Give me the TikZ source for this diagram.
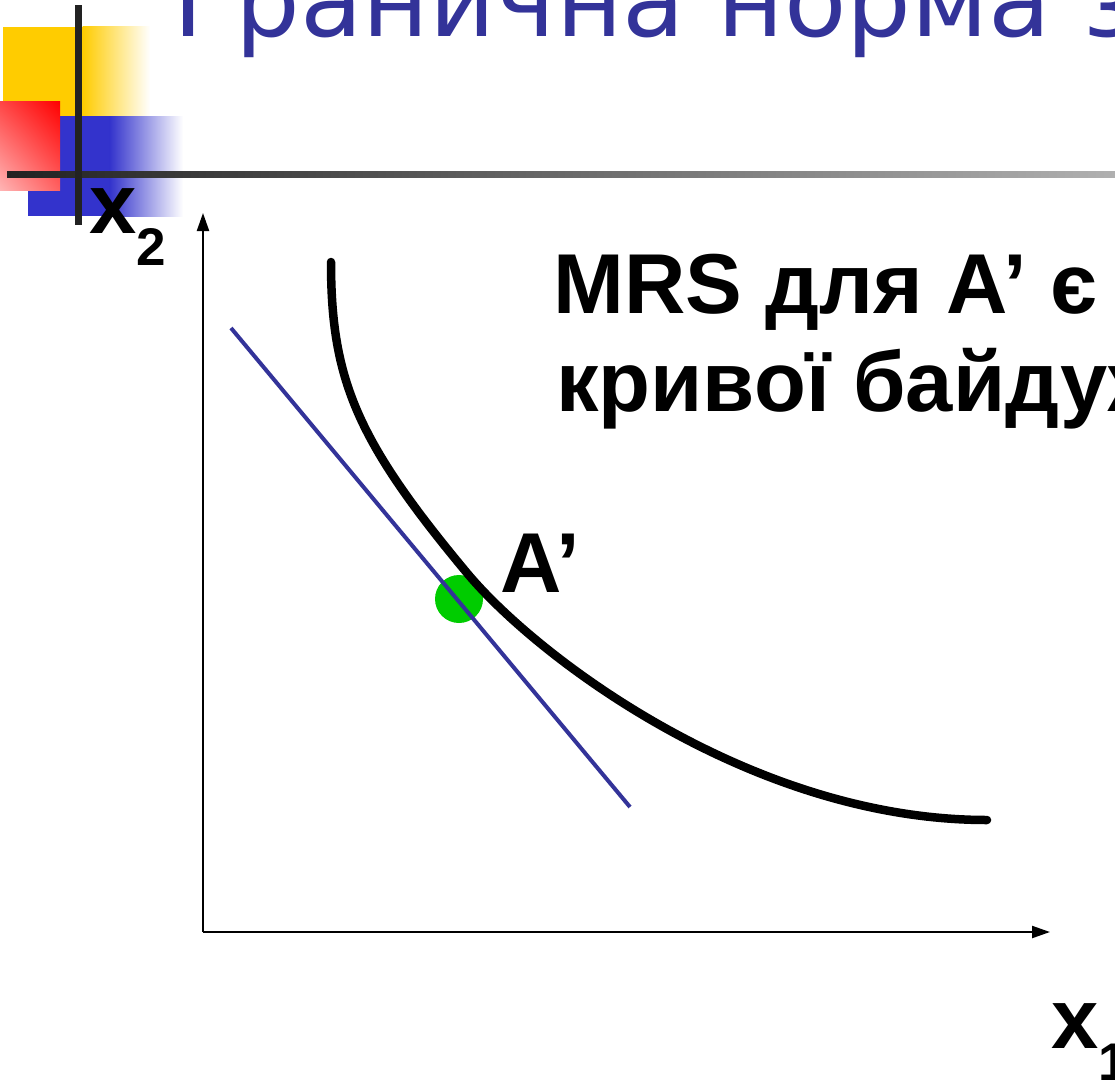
\documentclass[tikz,border=0pt]{standalone}
\usepackage{fontspec}
\setmainfont{Liberation Sans}
\newfontfamily\titlefont{DejaVu Sans}
\usetikzlibrary{arrows.meta,shadings}
\definecolor{titleblue}{HTML}{333399}
\definecolor{logoyellow}{HTML}{FFCC00}
\definecolor{logoblue}{HTML}{3333CC}
\definecolor{logodark}{HTML}{222222}
\definecolor{linegray}{HTML}{B0B0B0}
\definecolor{dotgreen}{HTML}{00CC00}
\definecolor{redUR}{HTML}{FF0000}
\definecolor{redUL}{HTML}{FF4545}
\definecolor{redLR}{HTML}{FF6060}
\definecolor{redLL}{HTML}{FFB4B4}
\begin{document}
\begin{tikzpicture}[x=1pt,y=-1pt,
  lbl/.style={inner sep=0pt, anchor=base west, font=\fontsize{85}{98}\selectfont\bfseries},
  axisline/.style={line width=2.2pt, -{Triangle[length=18pt,width=12pt]}},
  curveline/.style={line width=8.5pt, line cap=round, line join=round},
  tangentline/.style={titleblue, line width=4pt},
  dotstyle/.style={circle, fill=dotgreen, minimum size=48pt, inner sep=0pt}]
\useasboundingbox (0,0) rectangle (1115,1081);
\clip (0,0) rectangle (1115,1081);
\fill[white] (0,0) rectangle (1115,1081);
% logo
\fill[logoyellow] (3,27) rectangle (83,116);
\shade[left color=logoyellow, right color=white] (82.5,27) rectangle (150,116);
\fill[logoblue] (28,116) rectangle (110,216);
\shade[left color=logoblue, right color=white] (109.5,116) rectangle (183,216);
\shade[upper left=redUL, upper right=redUR, lower left=redLL, lower right=redLR] (0,101) rectangle (60,190);
\shade[left color=logodark, right color=linegray] (7,171) rectangle (1115,177);
\fill[logodark] (75,5) rectangle (82,225);
% title
\node[inner sep=0pt, anchor=base west, text=titleblue, font=\fontsize{102}{110}\titlefont] (title) at (173,37) {Гранична норма заміщення};
% axes
\coordinate (O) at (203,932);
\coordinate (Ytip) at (203,213);
\coordinate (Xtip) at (1050,932);
\draw[axisline] (O) -- (Ytip);
\draw[axisline] (O) -- (Xtip);
% dot, tangent, curve
\node[dotstyle] (Apt) at (459,599) {};
\coordinate (T1) at (231,328);
\coordinate (T2) at (630,807);
\draw[tangentline] (T1) -- (T2);
\coordinate (C0) at (331,262);
\coordinate (Cm) at (467,573);
\coordinate (C1) at (987,820);
\draw[curveline] (C0) .. controls (331,380) and (357,441) .. (Cm)
                      .. controls (537,657) and (752,820) .. (C1);
% labels
\node[lbl] (x2lab) at (89,233) {x\raisebox{-32pt}{\fontsize{53}{60}\selectfont 2}};
\node[lbl] (x1lab) at (1051,1048) {x\raisebox{-32pt}{\fontsize{53}{60}\selectfont 1}};
\node[lbl] (Alab) at (500,592) {A’};
\node[lbl] (mrs1) at (553,313) {MRS для A’ є};
\node[lbl] (mrs2) at (556,411) {кривої байдужості};
\end{tikzpicture}
\end{document}
